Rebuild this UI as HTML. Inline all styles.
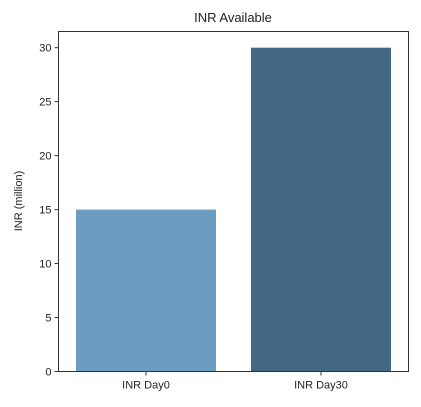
<!DOCTYPE html>
<html><head><meta charset="utf-8"><style>
body{margin:0;background:#fff;}
svg{display:block;font-family:"Liberation Sans","DejaVu Sans",sans-serif;}
</style></head><body>
<svg id="chart" width="421" height="407" viewBox="0 0 421 407">
<text x="233" y="22" text-anchor="middle" font-size="13" fill="#222">INR Available</text>
<text transform="translate(22,201) rotate(-90)" text-anchor="middle" font-size="11" fill="#222">INR (million)</text>
<g id="bars"></g><g id="yticks"></g><g id="xticks"></g>
<rect x="58.5" y="31.5" width="350" height="340" fill="none" stroke="#333" stroke-width="1"/>
</svg>
<script>
const categories = ["INR Day0", "INR Day30"];
const values = [15, 30];
const barColors = ["#6b9dc0", "#426886"];
const yTicks = [0, 5, 10, 15, 20, 25, 30];
const L=58.5,R=408.5,T=31.5,B=371.5,YMAX=31.5;
const y=v=>B-(v/YMAX)*(B-T);
const x=i=>L+(i+0.5)*(R-L)/categories.length;
const bw=0.8*(R-L)/categories.length;
const ns="http://www.w3.org/2000/svg";
const mk=(t,a)=>{const e=document.createElementNS(ns,t);for(const k in a)e.setAttribute(k,a[k]);return e;};
const bars=document.getElementById('bars'),yt=document.getElementById('yticks'),xt=document.getElementById('xticks');
values.forEach((v,i)=>{
 const r=mk('rect',{x:x(i)-bw/2,y:y(v),width:bw,height:y(0)-y(v),fill:barColors[i]});
 
 
 bars.appendChild(r);
 const tk=mk('line',{x1:x(i),x2:x(i),y1:B,y2:B+4,stroke:'#333'});
 
 
 xt.appendChild(tk);
 const tl=mk('text',{x:x(i),y:B+17,'text-anchor':'middle','font-size':11,fill:'#222'});
 tl.textContent=categories[i];
 
 
 xt.appendChild(tl);
});
yTicks.forEach(v=>{
 const tk=mk('line',{x1:L-4,x2:L,y1:y(v),y2:y(v),stroke:'#333'});
 
 
 yt.appendChild(tk);
 const tl=mk('text',{x:L-7,y:y(v)+4,'text-anchor':'end','font-size':11,fill:'#222'});
 tl.textContent=v;
 
 
 yt.appendChild(tl);
});
</script>
</body></html>
